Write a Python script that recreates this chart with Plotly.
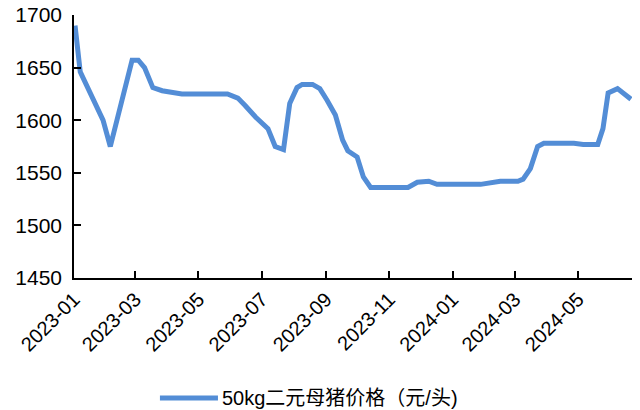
import plotly.graph_objects as go

dates = [
    "2023-01-02", "2023-01-07", "2023-01-29", "2023-02-05", "2023-02-26",
    "2023-03-04", "2023-03-10", "2023-03-18", "2023-03-27", "2023-04-15",
    "2023-05-29", "2023-06-08", "2023-06-15", "2023-06-25", "2023-07-07",
    "2023-07-14", "2023-07-22", "2023-07-28", "2023-08-04", "2023-08-09",
    "2023-08-19", "2023-08-26", "2023-09-02", "2023-09-10", "2023-09-17",
    "2023-09-22", "2023-10-01", "2023-10-07", "2023-10-14", "2023-11-19",
    "2023-11-28", "2023-12-09", "2023-12-17", "2024-01-28", "2024-02-16",
    "2024-03-04", "2024-03-09", "2024-03-16", "2024-03-23", "2024-03-29",
    "2024-04-27", "2024-05-06", "2024-05-20", "2024-05-25", "2024-05-30",
    "2024-06-08", "2024-06-21",
]
prices = [
    1690, 1646, 1600, 1575, 1657,
    1657, 1650, 1631, 1628, 1625,
    1625, 1621, 1614, 1603, 1592,
    1575, 1572, 1616, 1631, 1634,
    1634, 1630, 1619, 1605, 1581,
    1571, 1565, 1546, 1536, 1536,
    1541, 1542, 1539, 1539, 1542,
    1542, 1544, 1554, 1575, 1578,
    1578, 1577, 1577, 1592, 1626,
    1630, 1620,
]
series_name = "50kg二元母猪价格（元/头)"
tick_dates = ["2023-01-01", "2023-03-01", "2023-05-01", "2023-07-01", "2023-09-01",
              "2023-11-01", "2024-01-01", "2024-03-01", "2024-05-01"]
tick_labels = ["2023-01", "2023-03", "2023-05", "2023-07", "2023-09",
               "2023-11", "2024-01", "2024-03", "2024-05"]
y_ticks = [1450, 1500, 1550, 1600, 1650, 1700]

FONT = "Liberation Sans, Arial, Noto Sans CJK SC, sans-serif"
COLOR = "#538DD6"

fig = go.Figure()
fig.add_trace(go.Scatter(
    x=dates, y=prices, mode="lines", name=series_name,
    line=dict(color=COLOR, width=5), showlegend=False,
))

# manual legend below the plot (paper coordinates)
fig.add_shape(type="line", xref="paper", yref="paper",
              x0=0.154, x1=0.258, y0=-0.456, y1=-0.456,
              line=dict(color=COLOR, width=5))
fig.add_annotation(xref="paper", yref="paper", x=0.262, y=-0.456,
                   xanchor="left", yanchor="middle", showarrow=False,
                   text=series_name, font=dict(size=20, color="black"))

fig.update_layout(
    width=640, height=410,
    margin=dict(l=74, r=8, t=15, b=132, autoexpand=False),
    paper_bgcolor="white", plot_bgcolor="white",
    font=dict(family=FONT, size=21, color="black"),
    showlegend=False,
)
fig.update_xaxes(
    type="date", range=["2023-01-01", "2024-06-22"],
    tickmode="array", tickvals=tick_dates, ticktext=tick_labels,
    tickangle=-45, ticks="inside", ticklen=7, tickcolor="black", tickwidth=1.5,
    showline=True, linecolor="black", linewidth=1.5, showgrid=False, zeroline=False,
    automargin=False, tickfont=dict(size=20),
)
fig.update_yaxes(
    range=[1450, 1700], tickmode="array", tickvals=y_ticks,
    ticks="inside", ticklen=7, tickcolor="black", tickwidth=1.5,
    showline=True, linecolor="black", linewidth=1.5, showgrid=False, zeroline=False,
    ticklabelstandoff=6, automargin=False,
)

fig.write_html("out.html", config={"displayModeBar": False},
               post_script="document.body.style.margin='0px';document.body.style.padding='0px';")
